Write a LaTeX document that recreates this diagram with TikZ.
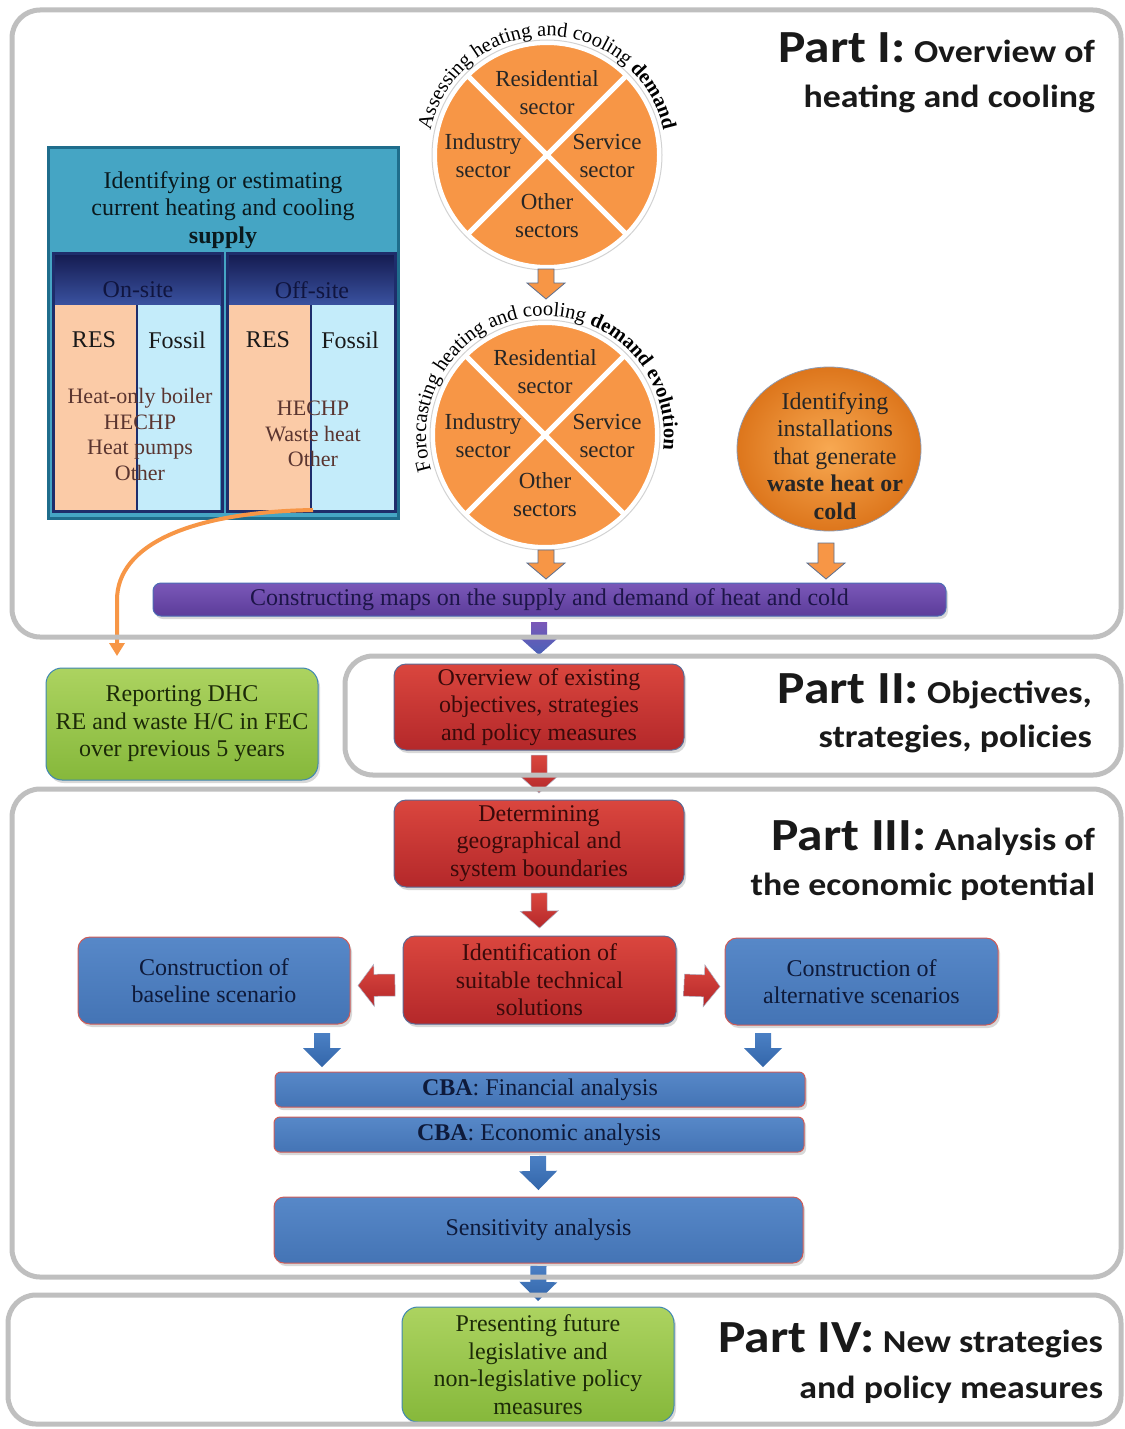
\documentclass[tikz,border=0pt]{standalone}
\usepackage{fontspec}
\setmainfont{Liberation Serif}
\newfontfamily\partfont[FakeStretch=1.12]{Carlito}
\usetikzlibrary{calc,decorations.text,shadows,shapes.geometric,arrows.meta}
\definecolor{frameg}{HTML}{BFBFBF}
\definecolor{orange1}{HTML}{F79646}
\definecolor{wasteIn}{HTML}{F8A952}
\definecolor{wasteOut}{HTML}{DD761C}
\definecolor{teal1}{HTML}{45A5C4}
\definecolor{supplyline}{HTML}{1F6D8C}
\definecolor{navytop}{HTML}{141A4F}
\definecolor{navybot}{HTML}{3A52A0}
\definecolor{navyline}{HTML}{1E2D6B}
\definecolor{resfill}{HTML}{FBCBA7}
\definecolor{fosfill}{HTML}{C4ECFA}
\definecolor{listtxt}{HTML}{5A3530}
\definecolor{redtop}{HTML}{DA463E}
\definecolor{redbot}{HTML}{B4282A}
\definecolor{redline}{HTML}{5C6A94}
\definecolor{redtext}{HTML}{3A0A0A}
\definecolor{bluetop}{HTML}{5788C8}
\definecolor{bluebot}{HTML}{4474B5}
\definecolor{blueline}{HTML}{CF5B57}
\definecolor{bluetext}{HTML}{0E1A3A}
\definecolor{greentop}{HTML}{ACD360}
\definecolor{greenbot}{HTML}{86B83B}
\definecolor{greenline}{HTML}{3F86B2}
\definecolor{greentext}{HTML}{1C2A08}
\definecolor{purptop}{HTML}{7A58B8}
\definecolor{purpbot}{HTML}{5C3C9A}
\definecolor{purpline}{HTML}{4C6CB5}
\definecolor{purptext}{HTML}{1D1548}
\definecolor{purparrbot}{HTML}{4A62B8}
\definecolor{bluearrtop}{HTML}{4B80C4}
\definecolor{bluearrbot}{HTML}{3366AA}
\definecolor{arrowline}{HTML}{5D6F8F}
\newcommand\curvfont{\fontsize{20.5}{24}\selectfont}
% block arrow: style, shaft half width, head half width, head length, from, to
\newcommand\BArrow[6]{%
  \coordinate (ba1) at #5;
  \coordinate (ba2) at #6;
  \coordinate (bah) at ($(ba2)!#4!(ba1)$);
  \path[#1] ($(ba1)!#2!90:(ba2)$) -- ($(bah)!#2!90:(ba2)$) -- ($(bah)!#3!90:(ba2)$)
    -- (ba2) -- ($(bah)!#3!-90:(ba2)$) -- ($(bah)!#2!-90:(ba2)$) -- ($(ba1)!#2!-90:(ba2)$) -- cycle;}
\begin{document}
\begin{tikzpicture}[x=1pt,y=1pt,
  every node/.style={inner sep=0pt, outer sep=0pt},
  txt/.style={font=\fontsize{24}{27.5}\selectfont, align=center},
  circtxt/.style={font=\fontsize{23}{28}\selectfont, align=center, text=black!85},
  shadowed/.style={drop shadow={shadow xshift=2pt, shadow yshift=-3pt, opacity=0.3}},
  redbox/.style={rounded corners=12pt, draw=redline, line width=1pt, top color=redtop, bottom color=redbot, text=redtext, txt, shadowed},
  bluebox/.style={rounded corners=12pt, draw=blueline, line width=1pt, top color=bluetop, bottom color=bluebot, text=bluetext, txt, shadowed},
  greenbox/.style={rounded corners=16pt, draw=greenline, line width=1pt, top color=greentop, bottom color=greenbot, text=greentext, txt, shadowed},
  purpbox/.style={rounded corners=8pt, draw=purpline, line width=1pt, top color=purptop, bottom color=purpbot, text=purptext, txt, shadowed},
  navyhead/.style={top color=navytop, bottom color=navybot, minimum width=169pt, minimum height=52pt},
  rescol/.style={fill=resfill, minimum width=83pt, minimum height=206pt},
  foscol/.style={fill=fosfill, minimum width=82pt, minimum height=206pt},
  panel/.style={draw=navyline, line width=3pt, minimum width=169pt, minimum height=258pt},
  coltxt/.style={font=\fontsize{24}{27}\selectfont, text=black!90},
  listfont/.style={font=\fontsize{22}{25.5}\selectfont, align=center, text=listtxt},
  orarrow/.style={fill=orange1, draw=arrowline, line width=0.8pt},
  redarrow/.style={top color=redtop, bottom color=redbot, draw=redline!50, line width=0.5pt},
  bluearrow/.style={top color=bluearrtop, bottom color=bluearrbot},
  purparrow/.style={top color=purptop, bottom color=purparrbot},
  partlbl/.style={font=\partfont\bfseries\fontsize{32}{36}\selectfont, text=black!90},
  frame/.style={draw=frameg, line width=5pt, rounded corners=28pt},
  orline/.style={draw=orange1, line width=4pt, -{Triangle[width=15pt,length=13pt]}}
]
\useasboundingbox (0,0) rectangle (1124,-1429);
\fill[white] (0,0) rectangle (1124,-1429);
\clip (0,0) rectangle (1124,-1429);

% ---------- Supply box ----------
\node[draw=supplyline, line width=3pt, fill=teal1, minimum width=350pt, minimum height=371pt] (supply) at (223,-333) {};
\node[txt, text=black!85!teal1] (supplytxt) at (223,-210) {Identifying or estimating\\current heating and cooling\\\textbf{supply}};
\node[navyhead] (onhead) at (137.5,-279) {};
\node[navyhead, minimum width=168pt] (offhead) at (311,-279) {};
\node[rescol] (onres) at (95.5,-408) {};
\node[foscol] (onfos) at (179,-408) {};
\node[rescol, minimum width=82pt] (offres) at (270,-408) {};
\node[foscol] (offfos) at (353,-408) {};
\draw[navyline, line width=2.5pt] (onres.north east) -- (onres.south east);
\draw[navyline, line width=2.5pt] (offres.north east) -- (offres.south east);
\node[panel] (onsite) at (137.5,-382) {};
\node[panel, minimum width=168pt] (offsite) at (311,-382) {};
\node[coltxt, text=navytop!80!black] (ontxt) at (138,-290) {On-site};
\node[coltxt, text=navytop!80!black] (offtxt) at (312,-290) {Off-site};
\node[coltxt] (onrest) at (94,-340) {RES};
\node[coltxt] (onfost) at (177,-340) {Fossil};
\node[coltxt] (offrest) at (268,-340) {RES};
\node[coltxt] (offfost) at (350,-340) {Fossil};
\node[listfont] (onlist) at (140,-434.5) {Heat-only boiler\\HECHP\\Heat pumps\\Other};
\node[listfont] (offlist) at (313,-434) {HECHP\\Waste heat\\Other};

% ---------- Circle 1 ----------
\node[circle, minimum size=224pt, fill=orange1] (c1) at (547,-155) {};
\draw[white, line width=4pt] (c1.center) circle[radius=112];
\draw[gray!35, line width=1pt] (c1.center) circle[radius=115];
\draw[white, line width=5pt] ($(c1.center)+(45:112)$) -- ($(c1.center)+(225:112)$);
\draw[white, line width=5pt] ($(c1.center)+(135:112)$) -- ($(c1.center)+(-45:112)$);
\node[circtxt] (c1r) at ($(c1.center)+(0,62.5)$) {Residential\\sector};
\node[circtxt] (c1i) at ($(c1.center)+(-64,-1)$) {Industry\\sector};
\node[circtxt] (c1s) at ($(c1.center)+(60,-1)$) {Service\\sector};
\node[circtxt] (c1o) at ($(c1.center)+(0,-61)$) {Other\\sectors};
\path[decorate, decoration={text along path, text align=center,
  text={|\curvfont|Assessing heating and cooling |\curvfont\bfseries|demand}}]
  ($(c1.center)+(190:119)$) arc[start angle=190, end angle=-10, radius=119];

% ---------- Circle 2 ----------
\node[circle, minimum size=224pt, fill=orange1] (c2) at (545,-435) {};
\draw[white, line width=4pt] (c2.center) circle[radius=112];
\draw[gray!35, line width=1pt] (c2.center) circle[radius=115];
\draw[white, line width=5pt] ($(c2.center)+(45:112)$) -- ($(c2.center)+(225:112)$);
\draw[white, line width=5pt] ($(c2.center)+(135:112)$) -- ($(c2.center)+(-45:112)$);
\node[circtxt] (c2r) at ($(c2.center)+(0,63)$) {Residential\\sector};
\node[circtxt] (c2i) at ($(c2.center)+(-62,-1)$) {Industry\\sector};
\node[circtxt] (c2s) at ($(c2.center)+(62,-1)$) {Service\\sector};
\node[circtxt] (c2o) at ($(c2.center)+(0,-60)$) {Other\\sectors};
\path[decorate, decoration={text along path, text align=center,
  text={|\curvfont|Forecasting heating and cooling |\curvfont\bfseries|demand evolution}}]
  ($(c2.center)+(215:119)$) arc[start angle=215, end angle=-25, radius=119];

% ---------- Waste heat circle ----------
\node[ellipse, minimum width=184pt, minimum height=164pt, inner color=wasteIn, outer color=wasteOut, draw=arrowline!70, line width=0.8pt] (waste) at (829,-449) {};
\node[txt, text=black!85] (wastetxt) at (835,-456) {Identifying\\installations\\that generate\\\textbf{waste heat or}\\\textbf{cold}};

% ---------- Maps bar ----------
\node[purpbox, minimum width=793pt, minimum height=33pt] (maps) at (549.5,-599.5) {Constructing maps on the supply and demand of heat and cold};

% ---------- Part II / III / IV boxes ----------
\node[greenbox, minimum width=272pt, minimum height=112pt] (report) at (182,-724) {Reporting DHC\\RE and waste H/C in FEC\\over previous 5 years};
\node[redbox, minimum width=290pt, minimum height=86pt] (overview) at (539,-707) {Overview of existing\\objectives, strategies\\and policy measures};
\node[redbox, minimum width=290pt, minimum height=87pt] (determ) at (539,-843.5) {Determining\\geographical and\\system boundaries};
\node[redbox, minimum width=273pt, minimum height=88pt] (ident) at (539.5,-980) {Identification of\\suitable technical\\solutions};
\node[bluebox, minimum width=272pt, minimum height=87pt] (base) at (214,-980.5) {Construction of\\baseline scenario};
\node[bluebox, minimum width=273pt, minimum height=87pt] (alt) at (861.5,-981.5) {Construction of\\alternative scenarios};
\node[bluebox, rounded corners=6pt, minimum width=530pt, minimum height=35pt] (cba1) at (540,-1089.5) {\textbf{CBA}: Financial analysis};
\node[bluebox, rounded corners=6pt, minimum width=530pt, minimum height=35pt] (cba2) at (539,-1134.5) {\textbf{CBA}: Economic analysis};
\node[bluebox, rounded corners=10pt, minimum width=529pt, minimum height=66pt] (sens) at (538.5,-1230) {Sensitivity analysis};
\node[greenbox, minimum width=272pt, minimum height=115pt] (present) at (538,-1364.5) {Presenting future\\legislative and\\non-legislative policy\\measures};

% ---------- Block arrows ----------
\BArrow{orarrow}{8pt}{19pt}{16pt}{($(c1.south)+(-1,-2)$)}{($(c1.south)+(-1,-32)$)}
\BArrow{orarrow}{8pt}{19pt}{16pt}{($(c2.south)+(1,-3)$)}{($(maps.north -| c2.south)+(1,4)$)}
\BArrow{orarrow}{8pt}{19pt}{16pt}{($(waste.south)+(-3,-12)$)}{($(maps.north -| waste.south)+(-3,4)$)}
\BArrow{purparrow}{8pt}{19pt}{17pt}{($(maps.south -| overview.north)+(0,-6)$)}{($(overview.north)+(0,9)$)}
\BArrow{redarrow}{8pt}{19pt}{17pt}{($(overview.south)+(0,-5)$)}{($(determ.north)+(0,7)$)}
\BArrow{redarrow}{8pt}{19pt}{17pt}{($(determ.south)+(0,-6)$)}{($(ident.north)+(0,8)$)}
\BArrow{redarrow}{11pt}{21pt}{16pt}{($(ident.west)+(-8,-5)$)}{($(base.east)+(8,-5)$)}
\BArrow{redarrow}{11pt}{21pt}{16pt}{($(ident.east)+(8,-5)$)}{($(alt.west)+(-5,-5)$)}
\BArrow{bluearrow}{8pt}{19pt}{19pt}{($(base.south)+(108,-9)$)}{($(base.south)+(108,-43)$)}
\BArrow{bluearrow}{8pt}{19pt}{19pt}{($(alt.south)+(-98.5,-8)$)}{($(alt.south)+(-98.5,-42)$)}
\BArrow{bluearrow}{8pt}{19pt}{19pt}{($(cba2.south)+(-1,-4)$)}{($(sens.north)+(0,7)$)}
\BArrow{bluearrow}{8pt}{19pt}{19pt}{($(sens.south)+(0,-3)$)}{($(present.north)+(0,6)$)}

% ---------- Orange connector ----------
\coordinate (cstart) at ($(offres.south east)+(2,1)$);
\coordinate (cend) at ($(report.north)+(-65,12)$);
\draw[orline] (cstart) .. controls (190,-512) and (117,-545) .. (117,-600) -- (cend);

% ---------- Part frames ----------
\draw[frame] (12,-10) rectangle (1121,-637);
\draw[frame] (345,-656) rectangle (1121,-775);
\draw[frame] (12,-789) rectangle (1121,-1277);
\draw[frame] (8,-1295) rectangle (1121,-1424);

% ---------- Part labels ----------
\node[partlbl, anchor=base east] (p1a) at (1095,-63) {{\fontsize{46}{50}\selectfont Part I:} Overview of};
\node[partlbl, anchor=base east] (p1b) at (1095,-107) {heating and cooling};
\node[partlbl, anchor=base east] (p2a) at (1092,-703) {{\fontsize{46}{50}\selectfont Part II:} Objectives,};
\node[partlbl, anchor=base east] (p2b) at (1092,-747) {strategies, policies};
\node[partlbl, anchor=base east] (p3a) at (1095,-850) {{\fontsize{46}{50}\selectfont Part III:} Analysis of};
\node[partlbl, anchor=base east] (p3b) at (1095,-895) {the economic potential};
\node[partlbl, anchor=base east] (p4a) at (1103,-1352) {{\fontsize{46}{50}\selectfont Part IV:} New strategies};
\node[partlbl, anchor=base east] (p4b) at (1103,-1398) {and policy measures};
\end{tikzpicture}
\end{document}
